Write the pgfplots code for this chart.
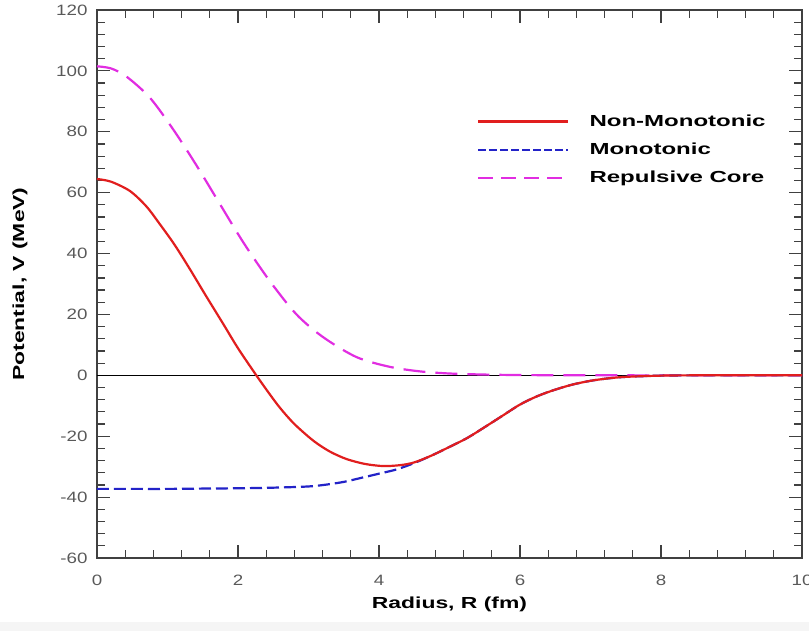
\documentclass[border=0pt]{standalone}
\usepackage{pgfplots}
\pgfplotsset{compat=1.18}
\usepackage{fontspec}
\setmainfont{Liberation Sans}
\newfontfamily\lblfont[FakeStretch=1.43]{Liberation Sans}
\newfontfamily\legfont[FakeStretch=1.5]{Liberation Sans}
\newfontfamily\tickfont[FakeStretch=1.25]{Liberation Sans}
\definecolor{cred}{RGB}{225,30,30}
\definecolor{cblue}{RGB}{35,35,200}
\definecolor{cmag}{RGB}{225,45,225}
\begin{document}
\begin{tikzpicture}
\begin{axis}[
  scale only axis, width=705bp, height=548bp,
  xmin=0, xmax=10, ymin=-60, ymax=120,
  xtick={0,2,4,6,8,10}, ytick={-60,-40,-20,0,20,40,60,80,100,120},
  minor tick num=4,
  tick align=inside, tick pos=both,
  major tick length=13bp, minor tick length=8bp,
  axis line style={line width=1.5bp, black!75},
  every tick/.style={line width=1.2bp, black!75},
  /pgf/number format/assume math mode=true,
  ticklabel style={font=\tickfont\fontsize{15bp}{18bp}\selectfont, text=black!65},
  yticklabel style={xshift=-6bp},
  xticklabel style={yshift=-14bp},
  xlabel={Radius, R (fm)},
  ylabel={Potential, V (MeV)},
  label style={font=\lblfont\bfseries\fontsize{16bp}{19bp}\selectfont},
  xlabel style={at={(axis description cs:0.5,0)}, anchor=center, yshift=-46bp},
  ylabel style={at={(axis description cs:0,0.5)}, anchor=center, yshift=77bp},
  legend style={draw=none, fill=none, at={(axis description cs:0.535,0.816)}, anchor=north west,
    font=\legfont\bfseries\fontsize{16bp}{19bp}\selectfont, row sep=11bp,
    nodes={inner sep=2bp}},
  legend cell align=left,
  legend image code/.code={\draw[#1] (0bp,0bp) -- (90bp,0bp); \path (108bp,0bp);},
  clip=true,
]
\coordinate (ll) at (rel axis cs:0,0);
\coordinate (ur) at (rel axis cs:1,1);
\addplot[black, line width=1bp, forget plot] coordinates {(0,0) (10,0)};
% Repulsive core
\addplot[cmag, line width=2.2bp, dash pattern=on 22bp off 10bp, smooth, forget plot] coordinates {
(0,101.5) (0.2,100.8) (0.42,98.1) (0.75,91.2) (1.08,80.8) (1.41,69.0) (1.75,56.0) (2.08,43.5)
(2.45,31.0) (2.83,20.0) (3.21,12.5) (3.68,6.0) (4.15,2.8) (4.58,1.3) (5,0.6) (5.5,0.25) (6,0.1) (7,0) (10,0)};
% Monotonic
\addplot[cblue, line width=2.2bp, dash pattern=on 12bp off 5bp, smooth, forget plot] coordinates {
(0,-37.3) (0.5,-37.3) (1,-37.3) (1.5,-37.2) (2,-37.1) (2.5,-36.9) (3,-36.5) (3.25,-35.9) (3.5,-35.0)
(3.78,-33.5) (4,-32.3) (4.25,-30.9) (4.5,-28.8) (4.75,-26.3) (5,-23.5) (5.25,-20.6) (5.5,-17.0)
(5.75,-13.3) (6,-9.6) (6.25,-6.8) (6.5,-4.7) (6.75,-3.0) (7,-1.8) (7.25,-1.0) (7.5,-0.5) (8,-0.1) (8.5,0) (10,0)};
% Non-monotonic
\addplot[cred, line width=2.2bp, smooth, forget plot] coordinates {
(0,64.5) (0.2,63.6) (0.47,60.5) (0.7,55.5) (0.89,49.7) (1.1,42.9) (1.32,34.8) (1.53,26.7) (1.79,16.9)
(2.0,8.9) (2.26,0) (2.45,-6.2) (2.6,-10.8) (2.8,-16.0) (3.07,-21.5) (3.3,-25.0) (3.54,-27.5) (3.8,-29.1)
(4.06,-29.8) (4.3,-29.5) (4.5,-28.6) (4.75,-26.3) (5,-23.5) (5.25,-20.6) (5.5,-17.0)
(5.75,-13.3) (6,-9.6) (6.25,-6.8) (6.5,-4.7) (6.75,-3.0) (7,-1.8) (7.25,-1.0) (7.5,-0.5) (8,-0.1) (8.5,0) (10,0)};
\addlegendimage{cred, line width=2.2bp}
\addlegendentry{Non-Monotonic}
\addlegendimage{cblue, line width=2.2bp, dash pattern=on 8bp off 3bp}
\addlegendentry{Monotonic}
\addlegendimage{cmag, line width=2.2bp, dash pattern=on 15bp off 8bp}
\addlegendentry{Repulsive Core}
\end{axis}
\pgfresetboundingbox
\fill[black!4] ([shift={(-97bp,-73bp)}]ll) rectangle ([shift={(7bp,-64bp)}]ll -| ur);
\path ([shift={(-97bp,-73bp)}]ll) rectangle ([shift={(7bp,10bp)}]ur);
\end{tikzpicture}
\end{document}
